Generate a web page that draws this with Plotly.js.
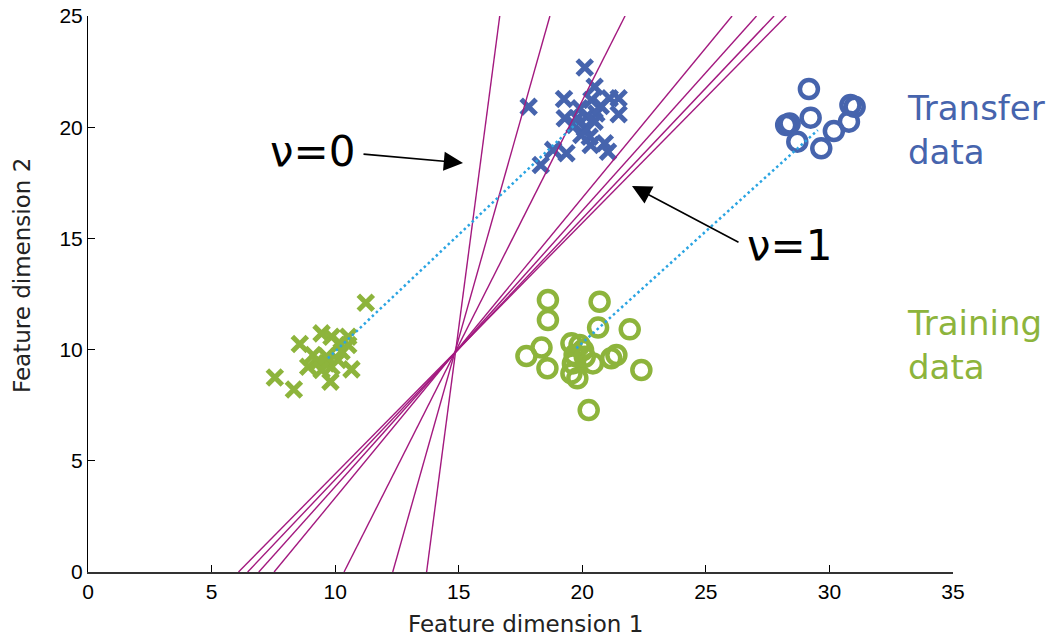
<!DOCTYPE html>
<html>
<head>
<meta charset="utf-8">
<script src="https://cdn.plot.ly/plotly-3.0.1.min.js"></script>
<style>html,body{margin:0;padding:0;background:#fff;}#chart{width:1049px;height:640px;}</style>
</head>
<body>
<div id="chart"></div>
<script>
// ---- data ----
const transferCrossX = [20.10,17.83,19.26,20.50,21.11,21.47,21.47,20.37,19.29,19.90,20.17,20.57,19.69,20.10,20.50,20.30,19.96,20.91,21.04,20.34,19.36,18.82,18.32,20.75,19.80];
const transferCrossY = [22.68,20.92,21.27,21.82,21.30,21.30,20.58,21.22,20.40,20.85,20.47,20.62,20.10,19.95,20.25,19.57,19.65,19.28,18.90,19.20,18.83,18.98,18.30,20.95,20.40];

const trainCrossX = [11.24,8.57,9.45,9.85,10.53,10.19,10.53,9.11,8.91,9.31,9.65,9.85,9.45,10.12,10.66,7.56,8.33,9.81,10.26,9.65];
const trainCrossY = [12.11,10.25,10.73,10.58,10.58,10.28,10.21,9.76,9.23,9.46,9.38,9.23,9.08,9.53,9.11,8.75,8.21,8.56,9.91,9.70];

const trainCircleX = [18.61,18.61,20.70,20.64,21.92,17.74,18.35,18.59,19.56,19.89,20.03,19.69,19.62,19.56,19.80,20.43,21.17,21.38,22.39,20.26,20.10];
const trainCircleY = [12.23,11.33,12.15,10.99,10.91,9.71,10.09,9.16,10.28,10.21,9.98,9.76,9.38,8.93,8.71,9.38,9.61,9.76,9.08,7.28,9.68];

const transferCircleX = [29.17,28.25,28.39,29.24,28.70,29.67,30.18,30.79,31.02,30.85];
const transferCircleY = [21.72,20.10,20.17,20.43,19.35,19.05,19.83,20.25,20.92,21.00];

// shift lines between class means
const crossShiftX = [9.71, 19.76];
const crossShiftY = [9.61, 20.17];
const circleShiftX = [19.76, 29.53];
const circleShiftY = [10.06, 19.87];

// decision boundaries: x where each line meets y = 0 and y = 25
const boundaryBottomX = [6.09, 6.46, 6.91, 7.53, 10.36, 12.33, 13.70];
const boundaryTopX = [28.25, 27.76, 27.05, 26.06, 21.73, 18.69, 16.66];
const boundaryY = [0, 25];

const xTicks = [0, 5, 10, 15, 20, 25, 30, 35];
const yTicks = [0, 5, 10, 15, 20, 25];

// ---- styling ----
const BLUE = '#4664ad';
const GREEN = '#8db43c';
const MAGENTA = '#a3197f';
const DOT = '#2aa4e2';

const traces = [];
traces.push({x: trainCrossX, y: trainCrossY, mode: 'markers', type: 'scatter',
  marker: {symbol: 'x-thin-open', size: 15, line: {color: GREEN, width: 5}, color: GREEN}});
traces.push({x: transferCrossX, y: transferCrossY, mode: 'markers', type: 'scatter',
  marker: {symbol: 'x-thin-open', size: 15, line: {color: BLUE, width: 5}, color: BLUE}});
traces.push({x: trainCircleX, y: trainCircleY, mode: 'markers', type: 'scatter',
  marker: {symbol: 'circle-open', size: 18, line: {color: GREEN, width: 4.5}, color: GREEN}});
traces.push({x: transferCircleX, y: transferCircleY, mode: 'markers', type: 'scatter',
  marker: {symbol: 'circle-open', size: 18, line: {color: BLUE, width: 4.5}, color: BLUE}});

const bx = [], by = [];
for (let i = 0; i < boundaryBottomX.length; i++) {
  bx.push(boundaryBottomX[i], boundaryTopX[i], null);
  by.push(boundaryY[0], boundaryY[1], null);
}
traces.push({x: bx, y: by, mode: 'lines', type: 'scatter', line: {color: MAGENTA, width: 1.4}, connectgaps: false});

traces.push({x: crossShiftX, y: crossShiftY, mode: 'lines', type: 'scatter', line: {color: DOT, width: 2.5, dash: '2.5px,3px'}});
traces.push({x: circleShiftX, y: circleShiftY, mode: 'lines', type: 'scatter', line: {color: DOT, width: 2.5, dash: '2.5px,3px'}});

const L = 88, R = 953, T = 16, B = 572;
const px = v => (v - L) / (R - L);
const py = v => (B - v) / (B - T);

const layout = {
  width: 1049, height: 640,
  margin: {l: L, r: 1049 - R, t: T, b: 640 - B},
  paper_bgcolor: '#fff', plot_bgcolor: '#fff',
  showlegend: false,
  font: {family: 'Liberation Sans, Arial, sans-serif', color: '#000'},
  xaxis: {
    range: [0, 35], tickvals: xTicks, ticktext: xTicks.map(String),
    showgrid: false, zeroline: false, showline: true, linecolor: '#333', linewidth: 1.5,
    ticks: 'inside', ticklen: 7, tickcolor: '#000', tickwidth: 1,
    tickfont: {family: 'Liberation Sans, Arial, sans-serif', size: 21, color: '#000'},
    fixedrange: true
  },
  yaxis: {
    range: [0, 25], tickvals: yTicks, ticktext: yTicks.map(String),
    showgrid: false, zeroline: false, showline: true, linecolor: '#000', linewidth: 1,
    ticks: 'inside', ticklen: 7, tickcolor: '#000', tickwidth: 1,
    tickfont: {family: 'Liberation Sans, Arial, sans-serif', size: 21, color: '#000'},
    fixedrange: true
  },
  annotations: [
    {xref: 'paper', yref: 'paper', x: px(525), y: py(624), text: 'Feature dimension 1', showarrow: false,
     xanchor: 'center', yanchor: 'middle', font: {family: 'DejaVu Sans, sans-serif', size: 23, color: '#222'}},
    {xref: 'paper', yref: 'paper', x: px(22), y: py(276), text: 'Feature dimension 2', showarrow: false, textangle: -90,
     xanchor: 'center', yanchor: 'middle', font: {family: 'DejaVu Sans, sans-serif', size: 23, color: '#222'}},
    {xref: 'paper', yref: 'paper', x: px(312), y: py(151), text: 'ν=0', showarrow: false,
     xanchor: 'center', yanchor: 'middle', font: {family: 'DejaVu Sans, sans-serif', size: 42, color: '#000'}},
    {xref: 'paper', yref: 'paper', x: px(789), y: py(245), text: 'ν=1', showarrow: false,
     xanchor: 'center', yanchor: 'middle', font: {family: 'DejaVu Sans, sans-serif', size: 42, color: '#000'}},
    {xref: 'paper', yref: 'paper', x: px(463), y: py(163), text: '', showarrow: true,
     ax: -101, ay: -9, arrowhead: 2, arrowsize: 2.4, arrowwidth: 1.6, arrowcolor: '#000'},
    {xref: 'paper', yref: 'paper', x: px(632), y: py(186), text: '', showarrow: true,
     ax: 108, ay: 57, arrowhead: 2, arrowsize: 2.4, arrowwidth: 1.6, arrowcolor: '#000'},
    {xref: 'paper', yref: 'paper', x: px(905), y: py(86), text: 'Transfer<br>data', showarrow: false,
     xanchor: 'left', yanchor: 'top', align: 'left', font: {family: 'DejaVu Sans, sans-serif', size: 34, color: BLUE}},
    {xref: 'paper', yref: 'paper', x: px(905), y: py(301), text: 'Training<br>data', showarrow: false,
     xanchor: 'left', yanchor: 'top', align: 'left', font: {family: 'DejaVu Sans, sans-serif', size: 34, color: GREEN}}
  ]
};

Plotly.newPlot('chart', traces, layout, {staticPlot: true, displayModeBar: false});
</script>
</body>
</html>
